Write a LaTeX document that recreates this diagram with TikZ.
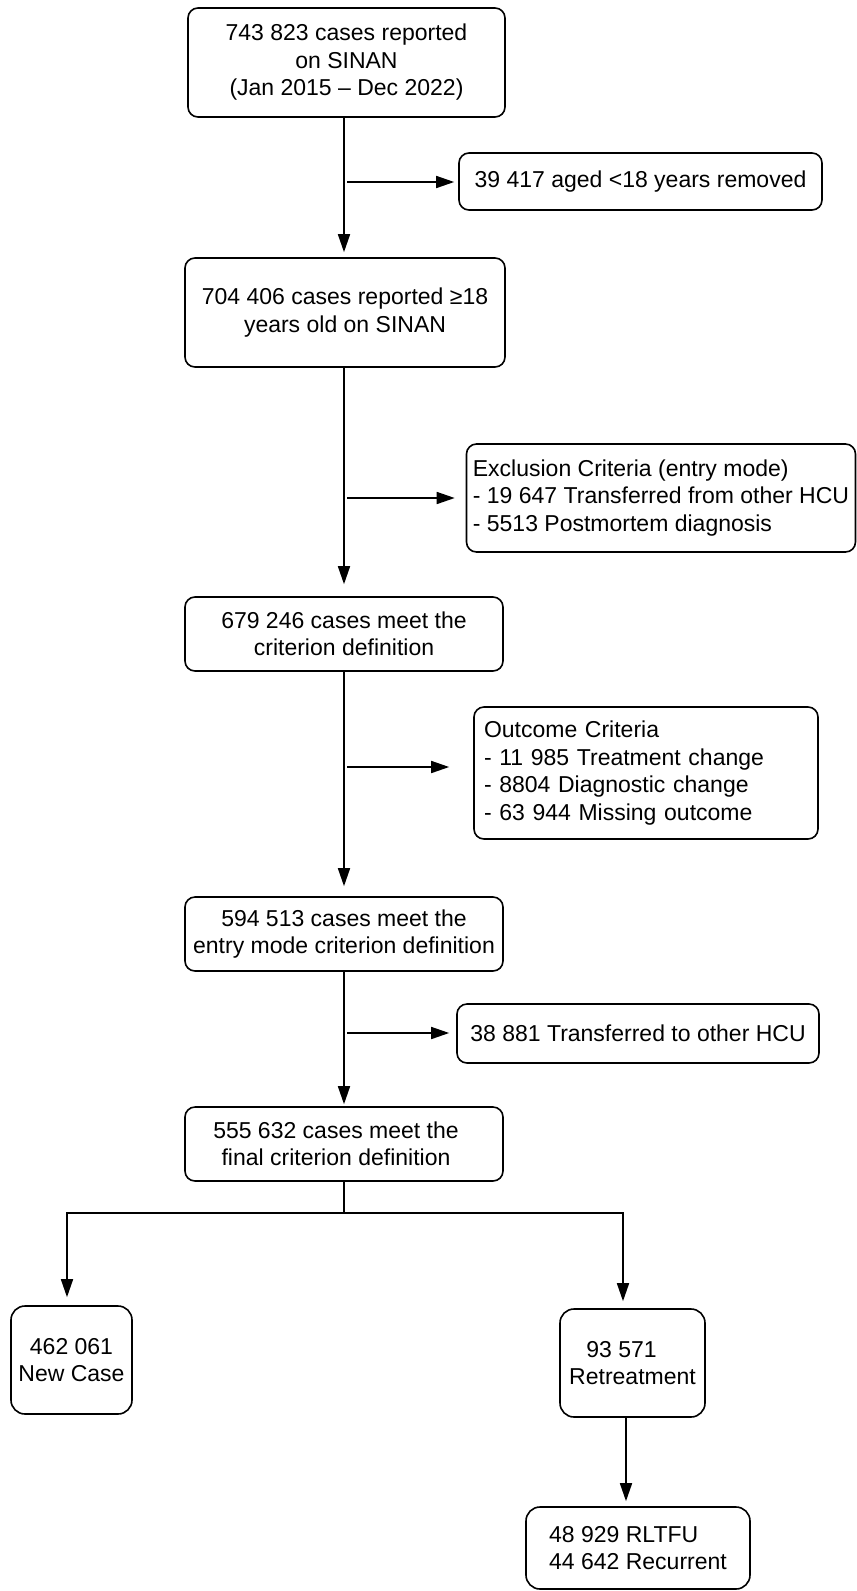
\documentclass[tikz,border=0pt]{standalone}
\usepackage{fontspec}
\setmainfont{Liberation Sans}
\usetikzlibrary{arrows.meta}
\begin{document}
\begin{tikzpicture}[x=1pt,y=-1pt,
  box/.style={draw, line width=1.6pt, rounded corners=10pt, inner sep=0pt,
    font=\fontsize{23}{27.5}\selectfont, align=center},
  arr/.style={line width=1.6pt, -{Triangle[length=18pt,width=12pt]}},
  ln/.style={line width=1.6pt}]
\useasboundingbox (0,0) rectangle (857,1591);
\fill[white] (0,0) rectangle (857,1591);

\node[box, minimum width=317pt, minimum height=109pt] (b1) at (346.5,62.5)
  {743 823 cases reported\\on SINAN\\(Jan 2015 – Dec 2022)};
\node[box, minimum width=363pt, minimum height=57pt] (b2) at (640.5,181.5)
  {39 417 aged <18 years removed};
\node[box, minimum width=320pt, minimum height=109pt] (b3) at (345,312.5)
  {704 406 cases reported ≥18\\years old on SINAN};
\node[box, align=left, minimum width=389pt, minimum height=108pt] (b4) at (661,498)
  {Exclusion Criteria (entry mode)\\- 19 647 Transferred from other HCU\\- 5513 Postmortem diagnosis};
\node[box, minimum width=318pt, minimum height=74pt] (b5) at (344,634)
  {679 246 cases meet the\\criterion definition};
\node[box, align=left, text width=324pt, inner xsep=10pt, minimum height=132pt] (b6) at (646,773)
  {Outcome Criteria\\- 11 985 Treatment change\\- 8804 Diagnostic change\\- 63 944 Missing outcome};
\node[box, minimum width=318pt, minimum height=74pt] (b7) at (344,934)
  {594 513 cases meet the\\entry mode criterion definition};
\node[box, minimum width=362pt, minimum height=59pt] (b8) at (638,1033.5)
  {38 881 Transferred to other HCU};
\node[box, minimum width=318pt, minimum height=74pt] (b9) at (344,1144)
  {555 632 cases meet the\hspace*{16pt}\\final criterion definition\hspace*{16pt}};
\node[box, rounded corners=14pt, minimum width=121pt, minimum height=108pt] (nc) at (71.5,1360)
  {462 061\\New Case};
\node[box, rounded corners=14pt, minimum width=145pt, minimum height=108pt] (rt) at (632.5,1363)
  {93 571\hspace*{22pt}\\Retreatment};
\node[box, align=left, rounded corners=14pt, minimum width=224pt, minimum height=82pt] (rl) at (638,1548)
  {48 929 RLTFU\\44 642 Recurrent};

\coordinate (mx) at (344,0);
\coordinate (rx) at (626,0);
\coordinate (j1) at (347,182);
\coordinate (j2) at (347,498);
\coordinate (j3) at (347,767);
\coordinate (j4) at (347,1033);
\coordinate (sp) at (344,1213);
\coordinate (sl) at (67,1213);
\coordinate (sr) at (623,1213);

\draw[arr, shorten >=5pt] (b1.south -| mx) -- (b3.north -| mx);
\draw[arr, shorten >=4pt] (j1) -- (b2.west |- j1);
\draw[arr, shorten >=12pt] (b3.south -| mx) -- (b5.north -| mx);
\draw[arr, shorten >=11pt] (j2) -- (b4.west |- j2);
\draw[arr, shorten >=10pt] (b5.south -| mx) -- (b7.north -| mx);
\draw[arr, shorten >=24pt] (j3) -- (b6.west |- j3);
\draw[arr, shorten >=2pt] (b7.south -| mx) -- (b9.north -| mx);
\draw[arr, shorten >=7pt] (j4) -- (b8.west |- j4);
\draw[ln] (b9.south -| mx) -- (sp);
\draw[arr, shorten >=8pt] (sp) -- (sl) -- (nc.north -| sl);
\draw[arr, shorten >=7pt] (sp) -- (sr) -- (rt.north -| sr);
\draw[arr, shorten >=5pt] (rt.south -| rx) -- (rl.north -| rx);
\end{tikzpicture}
\end{document}
